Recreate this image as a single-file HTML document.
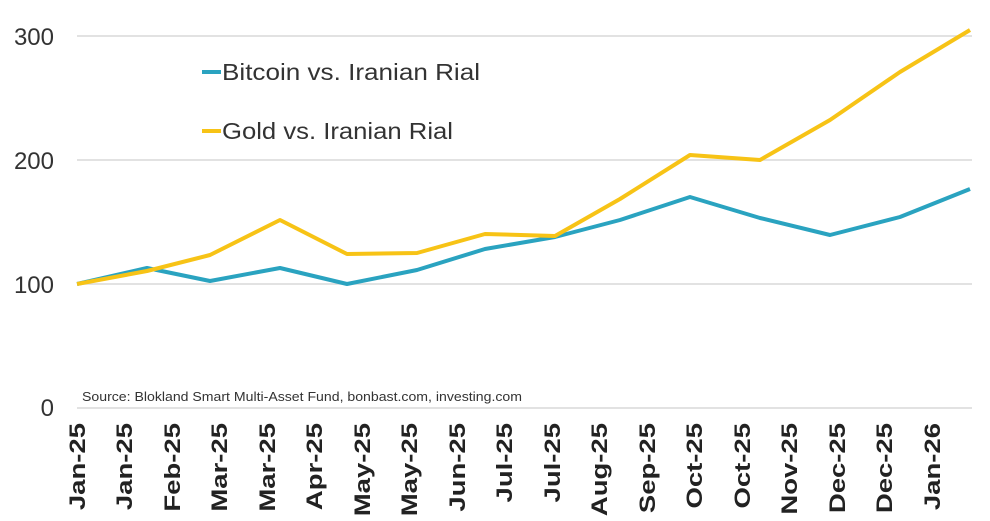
<!DOCTYPE html>
<html><head><meta charset="utf-8"><style>
html,body{margin:0;padding:0;background:#fff;}
svg{display:block;font-family:"Liberation Sans",sans-serif;}
</style></head><body>
<svg width="990" height="521" viewBox="0 0 990 521">
<g stroke="#d9d9d9" stroke-width="1.5">
<line x1="77" y1="36" x2="972" y2="36"/>
<line x1="77" y1="160" x2="972" y2="160"/>
<line x1="77" y1="284" x2="972" y2="284"/>
<line x1="77" y1="408" x2="972" y2="408"/>
</g>
<g fill="#333" font-size="24" text-anchor="end">
<text x="54" y="45">300</text>
<text x="54" y="169">200</text>
<text x="54" y="293">100</text>
<text x="54" y="416">0</text>
</g>
<polyline fill="none" stroke="#2aa3c0" stroke-width="4" stroke-linejoin="round" points="77,284 147,268 210,281 280,268 347,284 417,270 485,249 555,237 620,220 690,197 760,218 830,235 900,217 970,189"/>
<polyline fill="none" stroke="#f7c316" stroke-width="4" stroke-linejoin="round" points="77,284 147,271 210,255 280,220 347,254 417,253 485,234 555,236 620,199 690,155 760,160 830,120 900,72 970,30"/>
<line x1="202" y1="72" x2="221" y2="72" stroke="#2aa3c0" stroke-width="4"/>
<line x1="202" y1="131" x2="221" y2="131" stroke="#f7c316" stroke-width="4"/>
<g fill="#333" font-size="23">
<text x="222" y="80" textLength="258" lengthAdjust="spacingAndGlyphs">Bitcoin vs. Iranian Rial</text>
<text x="222" y="139" textLength="231" lengthAdjust="spacingAndGlyphs">Gold vs. Iranian Rial</text>
</g>
<text x="82" y="401" font-size="13" fill="#333" textLength="440" lengthAdjust="spacingAndGlyphs">Source: Blokland Smart Multi-Asset Fund, bonbast.com, investing.com</text>
<g fill="#222" font-size="22" font-weight="bold" text-anchor="end">
<text transform="translate(85,423) rotate(-90) scale(1.25,1)">Jan-25</text>
<text transform="translate(132,423) rotate(-90) scale(1.25,1)">Jan-25</text>
<text transform="translate(180,423) rotate(-90) scale(1.25,1)">Feb-25</text>
<text transform="translate(227,423) rotate(-90) scale(1.25,1)">Mar-25</text>
<text transform="translate(275,423) rotate(-90) scale(1.25,1)">Mar-25</text>
<text transform="translate(322,423) rotate(-90) scale(1.25,1)">Apr-25</text>
<text transform="translate(370,423) rotate(-90) scale(1.25,1)">May-25</text>
<text transform="translate(417,423) rotate(-90) scale(1.25,1)">May-25</text>
<text transform="translate(465,423) rotate(-90) scale(1.25,1)">Jun-25</text>
<text transform="translate(512,423) rotate(-90) scale(1.25,1)">Jul-25</text>
<text transform="translate(560,423) rotate(-90) scale(1.25,1)">Jul-25</text>
<text transform="translate(607,423) rotate(-90) scale(1.25,1)">Aug-25</text>
<text transform="translate(655,423) rotate(-90) scale(1.25,1)">Sep-25</text>
<text transform="translate(702,423) rotate(-90) scale(1.25,1)">Oct-25</text>
<text transform="translate(750,423) rotate(-90) scale(1.25,1)">Oct-25</text>
<text transform="translate(797,423) rotate(-90) scale(1.25,1)">Nov-25</text>
<text transform="translate(845,423) rotate(-90) scale(1.25,1)">Dec-25</text>
<text transform="translate(892,423) rotate(-90) scale(1.25,1)">Dec-25</text>
<text transform="translate(940,423) rotate(-90) scale(1.25,1)">Jan-26</text>
</g>
</svg>
</body></html>
